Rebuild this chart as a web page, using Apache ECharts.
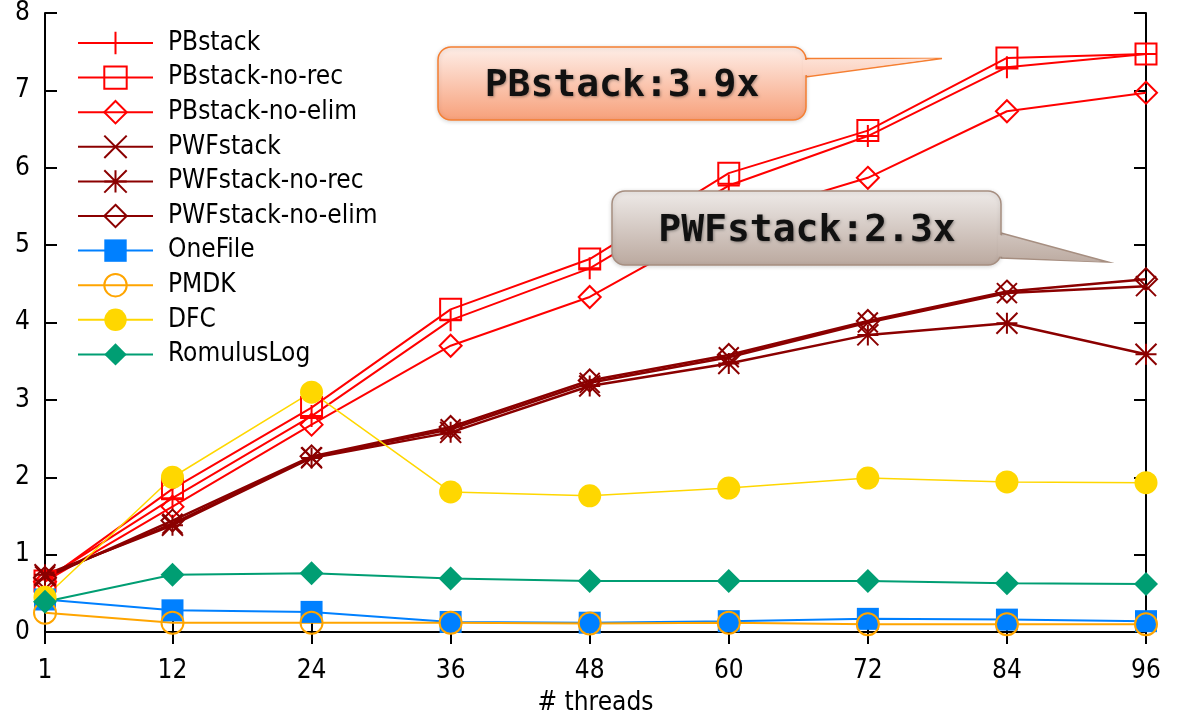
<!DOCTYPE html>
<html>
<head>
<meta charset="utf-8">
<script src="https://cdn.jsdelivr.net/npm/echarts@6/dist/echarts.min.js"></script>
<style>
html, body { margin: 0; padding: 0; background: #fff; }
#chart { width: 1178px; height: 728px; }
</style>
</head>
<body>
<div id="chart"></div>
<script>
// thread counts on the x axis
const threads = [1, 12, 24, 36, 48, 60, 72, 84, 96];
const yTicks = [0, 1, 2, 3, 4, 5, 6, 7, 8];

// speedup values
const pbstack       = [0.68, 1.73, 2.79, 4.03, 4.70, 5.77, 6.41, 7.30, 7.47];
const pbstackNoRec  = [0.66, 1.85, 2.90, 4.17, 4.82, 5.93, 6.48, 7.42, 7.47];
const pbstackNoElim = [0.65, 1.62, 2.68, 3.70, 4.33, 5.33, 5.87, 6.73, 6.97];
const pwfstack       = [0.72, 1.40, 2.26, 2.62, 3.22, 3.55, 4.00, 4.38, 4.47];
const pwfstackNoRec  = [0.74, 1.38, 2.25, 2.58, 3.18, 3.47, 3.84, 3.99, 3.59];
const pwfstackNoElim = [0.70, 1.44, 2.27, 2.65, 3.25, 3.58, 4.02, 4.40, 4.56];
const oneFile    = [0.42, 0.28, 0.26, 0.13, 0.12, 0.14, 0.17, 0.16, 0.14];
const pmdk       = [0.25, 0.12, 0.12, 0.12, 0.11, 0.12, 0.10, 0.10, 0.10];
const dfc        = [0.45, 2.00, 3.10, 1.81, 1.76, 1.86, 1.99, 1.94, 1.93];
const romulusLog = [0.39, 0.74, 0.76, 0.69, 0.66, 0.66, 0.66, 0.63, 0.62];

const FONT = '"DejaVu Sans Condensed", "DejaVu Sans", Verdana, sans-serif';
const MONO = '"DejaVu Sans Mono", "Liberation Mono", monospace';

// gnuplot-like point shapes
const PLUS = 'path://M10,0L10,20M0,10L20,10';
const CROSS = 'path://M0,0L20,20M20,0L0,20';
const STAR = 'path://M10,0L10,20M0,10L20,10M0,0L20,20M20,0L0,20';
const BOX = 'path://M0,0L20,0L20,20L0,20Z';
const DIAMOND = 'path://M10,0L20,10L10,20L0,10Z';

function pts(arr) {
  return threads.map((t, i) => [t, arr[i]]);
}

// open markers: stroked only
function openLine(name, arr, color, symbol, size, lw) {
  return {
    name: name,
    type: 'line',
    data: pts(arr),
    symbol: symbol,
    symbolSize: size,
    showAllSymbol: true,
    lineStyle: { color: color, width: lw },
    itemStyle: { color: 'rgba(0,0,0,0)', borderColor: color, borderWidth: 2 },
    emphasis: { disabled: true },
    animation: false
  };
}

// filled markers
function filledLine(name, arr, color, symbol, size, lw) {
  return {
    name: name,
    type: 'line',
    data: pts(arr),
    symbol: symbol,
    symbolSize: size,
    showAllSymbol: true,
    lineStyle: { color: color, width: lw },
    itemStyle: { color: color, borderWidth: 0 },
    emphasis: { disabled: true },
    animation: false
  };
}

const RED = '#ff0000';
const DARKRED = '#8b0000';

const series = [
  openLine('PBstack', pbstack, RED, PLUS, 22, 2),
  openLine('PBstack-no-rec', pbstackNoRec, RED, BOX, 21, 2),
  openLine('PBstack-no-elim', pbstackNoElim, RED, DIAMOND, 22, 2),
  openLine('PWFstack', pwfstack, DARKRED, CROSS, 20, 2.5),
  openLine('PWFstack-no-rec', pwfstackNoRec, DARKRED, STAR, 21, 2.5),
  openLine('PWFstack-no-elim', pwfstackNoElim, DARKRED, DIAMOND, 22, 2.5),
  filledLine('OneFile', oneFile, '#0080ff', 'rect', 22, 2),
  openLine('PMDK', pmdk, '#ffa500', 'circle', 22, 2),
  filledLine('DFC', dfc, '#ffd700', 'circle', 23, 1.5),
  filledLine('RomulusLog', romulusLog, '#009e73', 'diamond', 24, 2)
];

const axisLine = { show: true, lineStyle: { color: '#000', width: 2 } };
const axisTick = { show: true, inside: true, length: 12, lineStyle: { color: '#000', width: 2 } };

// callout gradient helper (absolute coords so box and tail match)
function grad(y0, y1, c0, c1) {
  return new echarts.graphic.LinearGradient(0, y0, 0, y1, [
    { offset: 0, color: c0 },
    { offset: 1, color: c1 }
  ], true);
}

function callout(box, tail, text, c0, c1, border, textX, textY) {
  const fill = grad(box.y, box.y + box.h, c0, c1);
  return [
    { type: 'polygon', z: 100, shape: { points: tail },
      style: { fill: fill, stroke: border, lineWidth: 1.5 } },
    { type: 'rect', z: 101, shape: { x: box.x, y: box.y, width: box.w, height: box.h, r: 13 },
      style: { fill: fill, stroke: border, lineWidth: 1.5,
        shadowBlur: 4, shadowColor: 'rgba(0,0,0,0.15)', shadowOffsetY: 1 } },
    { type: 'polygon', z: 102,
      shape: { points: [[tail[0][0] - 3, tail[0][1] + 1.5], [tail[1][0] - 6, tail[1][1]], [tail[2][0] - 3, tail[2][1] - 1.5]] },
      style: { fill: fill } },
    { type: 'text', z: 103, x: textX, y: textY,
      style: { text: text, font: 'bold 38px ' + MONO, fill: '#111',
        align: 'center', verticalAlign: 'middle',
        textShadowColor: 'rgba(0,0,0,0.35)', textShadowBlur: 3, textShadowOffsetX: 1, textShadowOffsetY: 1 } }
  ];
}

const graphics = [].concat(
  callout({ x: 438, y: 47, w: 368, h: 73 },
    [[806, 58.5], [942, 58.5], [806, 77]],
    'PBstack:3.9x', '#feeee8', '#f7a07a', '#f57f32', 622, 86),
  callout({ x: 612, y: 191, w: 389, h: 74 },
    [[1001, 233], [1108, 262], [1001, 258]],
    'PWFstack:2.3x', '#eeeae8', '#bba99f', '#a68e80', 807, 231)
);

const chart = echarts.init(document.getElementById('chart'), null, { renderer: 'canvas' });
chart.setOption({
  backgroundColor: '#fff',
  animation: false,
  grid: { left: 45, right: 32, top: 12, bottom: 96, containLabel: false },
  legend: {
    orient: 'vertical',
    left: 77,
    top: 29,
    padding: 0,
    itemWidth: 75,
    itemHeight: 28,
    itemGap: 6.6,
    selectedMode: false,
    textStyle: { fontFamily: FONT, fontSize: 26, color: '#000', lineHeight: 28, padding: [0, 0, 0, 10] },
    data: series.map(s => s.name)
  },
  xAxis: [
    {
      type: 'value', min: 1, max: 96,
      name: '# threads', nameLocation: 'middle', nameGap: 58, nameMoveOverlap: false,
      nameTextStyle: { fontFamily: FONT, fontSize: 26, color: '#000' },
      axisLine: axisLine,
      axisTick: Object.assign({ customValues: threads }, axisTick),
      axisLabel: { customValues: threads, margin: 26, fontFamily: FONT, fontSize: 26, color: '#000' },
      splitLine: { show: false }
    },
    {
      type: 'value', min: 1, max: 96, position: 'top',
      axisLine: axisLine,
      axisTick: Object.assign({ customValues: threads }, axisTick),
      axisLabel: { show: false },
      splitLine: { show: false }
    }
  ],
  yAxis: [
    {
      type: 'value', min: 0, max: 8, interval: 1,
      axisLine: axisLine,
      axisTick: axisTick,
      axisLabel: { margin: 15, fontFamily: FONT, fontSize: 26, color: '#000',
        customValues: yTicks },
      splitLine: { show: false }
    },
    {
      type: 'value', min: 0, max: 8, interval: 1, position: 'right',
      axisLine: axisLine,
      axisTick: axisTick,
      axisLabel: { show: false },
      splitLine: { show: false }
    }
  ],
  series: series,
  graphic: graphics
});
window.addEventListener('resize', () => chart.resize());
</script>
</body>
</html>
